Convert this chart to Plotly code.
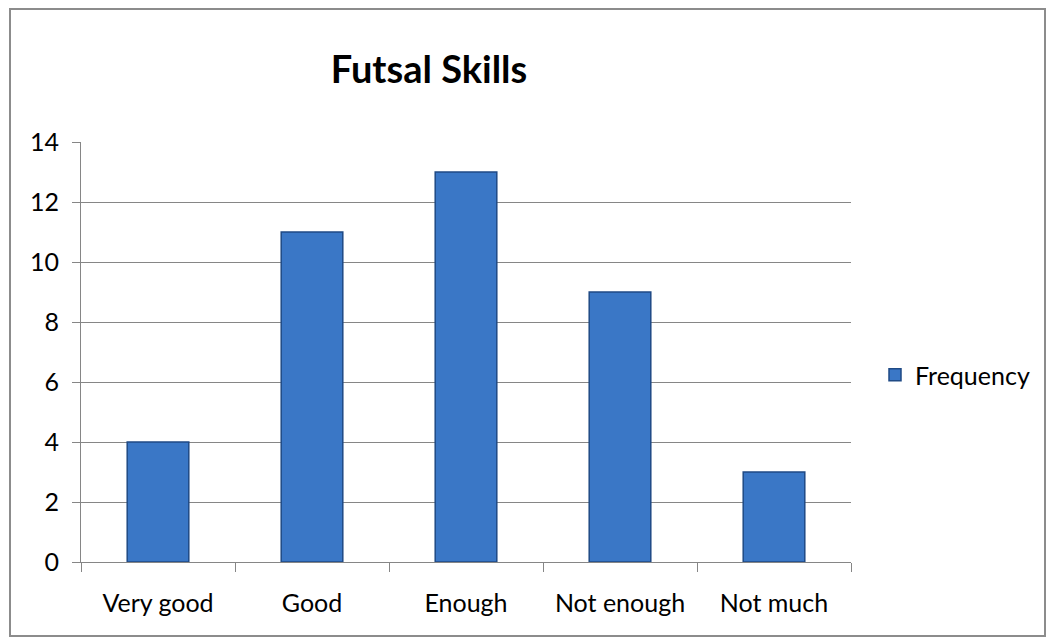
import plotly.graph_objects as go

categories = ["Very good", "Good", "Enough", "Not enough", "Not much"]
frequency = [4, 11, 13, 9, 3]
y_ticks = [0, 2, 4, 6, 8, 10, 12, 14]

W, H = 1054, 637
OFF = 8  # page body margin
L, R, T, B = 81 - OFF, 851 - OFF, 142 - OFF, 562 - OFF

def px_x(p):
    return (p - L) / (R - L)

def px_y(p):
    return (B - p) / (B - T)

fig = go.Figure()
fig.add_trace(go.Bar(
    x=categories, y=frequency, name="Frequency",
    width=0.40,
    marker=dict(color="#3a77c6", line=dict(color="#1f4a85", width=1.5)),
))

FONT = "Lato, Calibri, sans-serif"
fig.update_layout(
    width=W, height=H, autosize=False,
    margin=dict(l=L, r=W - R, t=T, b=H - B, pad=0),
    paper_bgcolor="white", plot_bgcolor="white",
    font=dict(family=FONT, color="#000000", size=25),
    title=dict(text="<b>Futsal Skills</b>", x=(429 - OFF) / W, xanchor="center",
               y=1 - (70 - OFF) / H, yanchor="middle",
               font=dict(size=38, family=FONT, color="#000000")),
    showlegend=True,
    legend=dict(x=px_x(875 - OFF), y=px_y(375 - OFF), xanchor="left", yanchor="middle",
                font=dict(size=25), itemwidth=30, bgcolor="rgba(0,0,0,0)"),
    shapes=[dict(type="rect", xref="paper", yref="paper",
                 x0=px_x(10 - OFF), x1=px_x(1045 - OFF), y0=px_y(636 - OFF), y1=px_y(9 - OFF),
                 line=dict(color="#8c8c8c", width=2), layer="below")],
)
fig.update_xaxes(
    type="category", showline=True, linecolor="#868686", linewidth=1,
    ticks="outside", tickson="boundaries", ticklen=9, tickcolor="#868686",
    showgrid=False, tickfont=dict(size=25), ticklabelstandoff=19,
)
fig.update_yaxes(
    range=[0, 14], tickvals=y_ticks, showline=True, linecolor="#868686", linewidth=1,
    ticks="outside", ticklen=8, tickcolor="#868686",
    showgrid=True, gridcolor="#868686", gridwidth=1, zeroline=False,
    tickfont=dict(size=25), ticklabelstandoff=8,
)

fig.write_html("out.html")
